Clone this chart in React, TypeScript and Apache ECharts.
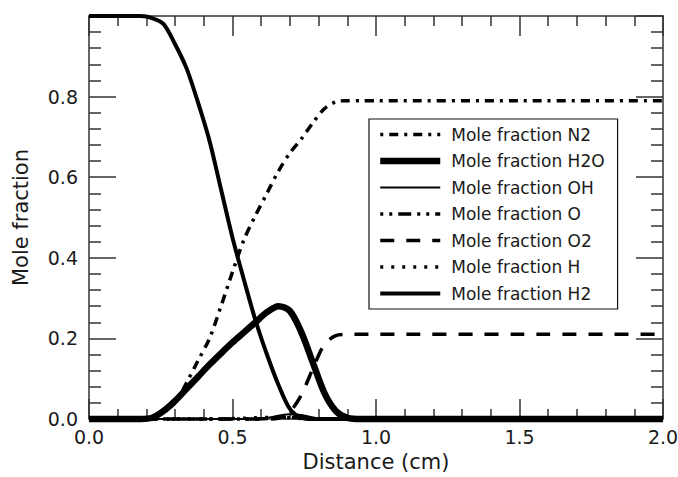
import React, { useEffect, useRef } from "react";
import * as echarts from "echarts";

const distance = [0, 0.1, 0.18, 0.22, 0.26, 0.3, 0.34, 0.38, 0.42, 0.46, 0.5, 0.54, 0.58, 0.62, 0.66, 0.7, 0.74, 0.78, 0.82, 0.86, 0.9, 0.95, 1.0, 1.5, 2.0];

const fracN2 = [0, 0, 0, 0.005, 0.02, 0.04, 0.09, 0.145, 0.2, 0.28, 0.365, 0.445, 0.505, 0.56, 0.615, 0.66, 0.695, 0.735, 0.77, 0.787, 0.79, 0.79, 0.79, 0.79, 0.79];
const fracH2O = [0, 0, 0, 0.003, 0.02, 0.045, 0.075, 0.105, 0.135, 0.163, 0.19, 0.215, 0.24, 0.265, 0.28, 0.268, 0.215, 0.14, 0.065, 0.02, 0.003, 0, 0, 0, 0];
const fracOH = [0, 0, 0, 0, 0, 0, 0, 0, 0, 0, 0, 0, 0.001, 0.003, 0.008, 0.012, 0.01, 0.004, 0.001, 0, 0, 0, 0, 0, 0];
const fracO = [0, 0, 0, 0, 0, 0, 0, 0, 0, 0, 0, 0, 0, 0.001, 0.003, 0.004, 0.003, 0.001, 0, 0, 0, 0, 0, 0, 0];
const fracO2 = [0, 0, 0, 0, 0, 0, 0, 0, 0, 0, 0, 0, 0, 0, 0.002, 0.018, 0.06, 0.125, 0.185, 0.207, 0.21, 0.21, 0.21, 0.21, 0.21];
const fracH = [0, 0, 0, 0, 0, 0, 0, 0, 0, 0, 0.001, 0.002, 0.003, 0.004, 0.004, 0.003, 0.001, 0, 0, 0, 0, 0, 0, 0, 0];
const fracH2 = [1.0, 1.0, 1.0, 0.995, 0.98, 0.93, 0.87, 0.785, 0.69, 0.57, 0.45, 0.345, 0.245, 0.16, 0.085, 0.025, 0.003, 0, 0, 0, 0, 0, 0, 0, 0];

const seriesNames = [
  "Mole fraction N2",
  "Mole fraction H2O",
  "Mole fraction OH",
  "Mole fraction O",
  "Mole fraction O2",
  "Mole fraction H",
  "Mole fraction H2",
];
const seriesValues = [fracN2, fracH2O, fracOH, fracO, fracO2, fracH, fracH2];
const seriesWidths = [3.5, 6.5, 2, 3.5, 3.5, 3.5, 4];
const seriesDash: any[] = [
  [3, 6, 9, 6],
  "solid",
  "solid",
  [3, 6, 3, 6, 13, 6],
  [14, 12],
  [3, 8],
  "solid",
];

const FONT = "DejaVu Sans";
const INK = "#1a1a1a";
const AXIS = "#333";

export default function App() {
  const ref = useRef<HTMLDivElement>(null);
  useEffect(() => {
    if (!ref.current) return;
    const chart = echarts.init(ref.current, undefined, { renderer: "svg" });

    const series = seriesNames.map((name, i) => ({
      name,
      type: "line",
      xAxisIndex: 0,
      yAxisIndex: 0,
      data: distance.map((d, j) => [d, seriesValues[i][j]]),
      symbol: "none",
      showSymbol: false,
      smooth: 0.3,
      clip: false,
      lineStyle: { color: "#000", width: seriesWidths[i], type: seriesDash[i] },
      itemStyle: { color: "#000" },
      emphasis: { disabled: true },
    }));

    const xCommon = {
      type: "value",
      min: 0,
      max: 2,
      interval: 0.5,
      splitLine: { show: false },
      axisLine: { show: true, onZero: false, lineStyle: { color: AXIS, width: 1.5 } },
      axisTick: { show: true, inside: true, length: 20, lineStyle: { color: AXIS, width: 1.5 } },
      minorTick: { show: true, splitNumber: 5, length: 10, lineStyle: { color: AXIS, width: 1.5 } },
      minorSplitLine: { show: false },
    };
    const yCommon = {
      type: "value",
      min: 0,
      max: 1,
      interval: 0.2,
      splitLine: { show: false },
      axisLine: { show: true, onZero: false, lineStyle: { color: AXIS, width: 1.5 } },
      axisTick: { show: true, inside: true, length: 27, lineStyle: { color: AXIS, width: 1.5 } },
      minorTick: { show: true, splitNumber: 5, length: 12, lineStyle: { color: AXIS, width: 1.5 } },
      minorSplitLine: { show: false },
    };

    chart.setOption({
      animation: false,
      backgroundColor: "#fff",
      grid: { left: 89, right: 15, top: 16, bottom: 58, outerBoundsMode: "none" },
      xAxis: [
        {
          ...xCommon,
          position: "bottom",
          name: "Distance (cm)",
          nameLocation: "middle",
          nameGap: 32,
          nameTextStyle: { fontFamily: FONT, fontSize: 21, color: INK },
          axisLabel: {
            show: true,
            margin: 8,
            fontFamily: FONT,
            fontSize: 19,
            color: INK,
            formatter: (v: number) => v.toFixed(1),
          },
        },
        { ...xCommon, position: "top", axisLabel: { show: false } },
      ],
      yAxis: [
        {
          ...yCommon,
          position: "left",
          name: "Mole fraction",
          nameLocation: "middle",
          nameGap: 58,
          nameRotate: 90,
          nameTextStyle: { fontFamily: FONT, fontSize: 21, color: INK },
          axisLabel: {
            show: true,
            margin: 11,
            fontFamily: FONT,
            fontSize: 19,
            color: INK,
            showMaxLabel: false,
            formatter: (v: number) => (v >= 0.999 ? "" : v.toFixed(1)),
          },
        },
        { ...yCommon, position: "right", axisLabel: { show: false } },
      ],
      legend: {
        orient: "vertical",
        left: 369,
        top: 119,
        itemWidth: 60,
        itemHeight: 14,
        itemGap: 9.5,
        padding: [7, 13, 7, 8],
        borderColor: "#111",
        borderWidth: 1.2,
        selectedMode: false,
        textStyle: { fontFamily: FONT, fontSize: 17, color: INK, padding: [0, 0, 0, 6] },
        itemStyle: { opacity: 0 },
        data: seriesNames.map((name, i) => ({
          name,
          lineStyle: { color: "#000", width: seriesWidths[i], type: seriesDash[i] },
          itemStyle: { opacity: 0 },
        })),
      },
      series,
    });

    return () => chart.dispose();
  }, []);

  return (
    <div
      ref={ref}
      style={{ position: "fixed", left: 0, top: 0, width: 678, height: 477, background: "#fff" }}
    />
  );
}
